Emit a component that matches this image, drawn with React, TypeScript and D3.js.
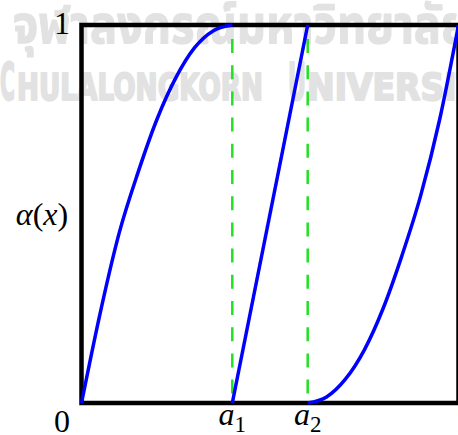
import React from "react";
import * as d3 from "d3";

// Piecewise rising map α(x) on [0, 1] with breakpoints a1, a2
const breakX = [0.4, 0.6];
const breakLabels = ["1", "2"];

const firstX = [0, 0.05, 0.1, 0.15, 0.2, 0.25, 0.3, 0.35, 0.4];
const firstY = [0, 0.24, 0.45, 0.61, 0.75, 0.86, 0.94, 0.985, 1];

const middleX = [0.4, 0.6];
const middleY = [0, 1];

const lastX = [0.6, 0.65, 0.7, 0.75, 0.8, 0.85, 0.9, 0.95, 1];
const lastY = [0, 0.016, 0.063, 0.14, 0.25, 0.39, 0.55, 0.75, 1];

const watermarkThai = "จุฬาลงกรณ์มหาวิทยาลัย";

const W = 458;
const H = 435;
const left = 81.5;
const right = 458.5;
const top = 25;
const bottom = 403;

export default function App() {
  const x = d3.scaleLinear().domain([0, 1]).range([left, right]);
  const y = d3.scaleLinear().domain([0, 1]).range([bottom, top]);

  const line = d3
    .line<[number, number]>()
    .x((d) => x(d[0]))
    .y((d) => y(d[1]))
    .curve(d3.curveMonotoneX);

  const segments = [
    [firstX, firstY],
    [middleX, middleY],
    [lastX, lastY],
  ].map(([xs, ys]) => xs.map((v, i) => [v, ys[i]] as [number, number]));

  const serif = "'Liberation Serif', 'DejaVu Serif', serif";
  const grey = "#e2e2e2";

  return (
    <svg
      width={W}
      height={H}
      viewBox={`0 0 ${W} ${H}`}
      style={{ position: "absolute", left: 0, top: 0, background: "#fff" }}
    >
      {/* watermark */}
      <g fill={grey} fontWeight="bold" stroke={grey} strokeLinejoin="round">
        <text
          x={13}
          y={43}
          fontSize={54}
          fontFamily="'Noto Sans Thai', 'Noto Sans', 'DejaVu Sans', sans-serif"
          textLength={456}
          lengthAdjust="spacingAndGlyphs"
          strokeWidth={1.2}
        >
          {watermarkThai}
        </text>
        <g fontFamily="'DejaVu Sans', 'Liberation Sans', sans-serif" strokeWidth={2.2}>
          <text x={0} y={100} fontSize={52} textLength={15} lengthAdjust="spacingAndGlyphs">
            C
          </text>
          <text x={17} y={100} fontSize={38} textLength={246} lengthAdjust="spacingAndGlyphs">
            HULALONGKORN
          </text>
          <text x={288} y={100} fontSize={52} textLength={18} lengthAdjust="spacingAndGlyphs">
            U
          </text>
          <text x={307} y={100} fontSize={38} textLength={196} lengthAdjust="spacingAndGlyphs">
            NIVERSITY
          </text>
        </g>
      </g>

      {/* breakpoint guides */}
      {breakX.map((b) => (
        <line
          key={b}
          x1={x(b)}
          x2={x(b)}
          y1={y(1)}
          y2={y(0)}
          stroke="#22e022"
          strokeWidth={2.5}
          strokeDasharray="14 12.2"
          strokeDashoffset={12.2}
        />
      ))}

      {/* frame */}
      <rect
        x={left}
        y={top}
        width={right - left}
        height={bottom - top}
        fill="none"
        stroke="#000"
        strokeWidth={4.5}
      />

      {/* α(x) */}
      {segments.map((s, i) => (
        <path key={i} d={line(s) ?? ""} fill="none" stroke="#0000ff" strokeWidth={3.5} />
      ))}

      {/* labels */}
      <g fontFamily={serif} fontSize={32} fill="#000">
        <text x={62} y={34} textAnchor="middle">
          1
        </text>
        <text x={62} y={432} textAnchor="middle">
          0
        </text>
        <text x={x(1) + 5} y={432} textAnchor="middle">
          1
        </text>
        <text x={42} y={225} textAnchor="middle">
          <tspan fontStyle="italic">α</tspan>
          <tspan>(</tspan>
          <tspan fontStyle="italic">x</tspan>
          <tspan>)</tspan>
        </text>
        {breakX.map((b, i) => (
          <text key={b} x={x(b)} y={425} textAnchor="middle">
            <tspan fontStyle="italic">a</tspan>
            <tspan fontSize={23} dy={7}>
              {breakLabels[i]}
            </tspan>
          </text>
        ))}
      </g>
    </svg>
  );
}
